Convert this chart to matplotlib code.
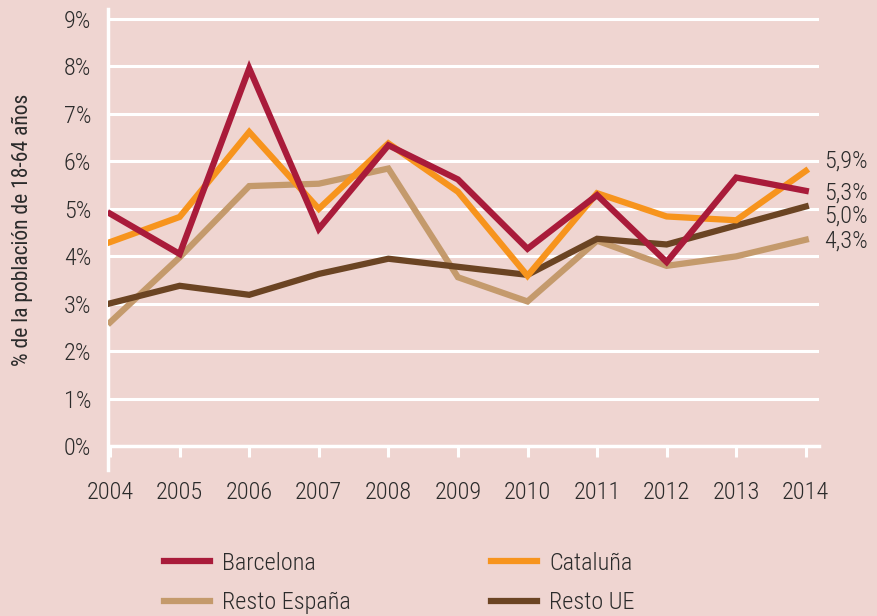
import matplotlib
matplotlib.use("Agg")
import matplotlib.pyplot as plt
from matplotlib import font_manager

years = [2004, 2005, 2006, 2007, 2008, 2009, 2010, 2011, 2012, 2013, 2014]
barcelona = [4.90, 4.05, 7.96, 4.58, 6.34, 5.62, 4.16, 5.29, 3.88, 5.66, 5.38]
cataluna = [4.30, 4.83, 6.62, 5.00, 6.38, 5.36, 3.59, 5.33, 4.84, 4.76, 5.80]
resto_espana = [2.61, 3.98, 5.48, 5.53, 5.85, 3.56, 3.05, 4.33, 3.80, 4.00, 4.35]
resto_ue = [3.01, 3.38, 3.19, 3.63, 3.95, 3.78, 3.61, 4.37, 4.25, 4.65, 5.05]
series_names = ["Barcelona", "Cataluña", "Resto España", "Resto UE"]
end_labels = ["5,9%", "5,3%", "5,0%", "4,3%"]
y_ticks = [0, 1, 2, 3, 4, 5, 6, 7, 8, 9]
y_tick_labels = [f"{v}%" for v in y_ticks]

colors = ["#a91b3a", "#f7941d", "#c49a6c", "#6b4423"]
bg = "#efd5d1"
txt = "#2b2b2b"

names = {f.name for f in font_manager.fontManager.ttflist}
fam = [f for f in ["Roboto Condensed", "Liberation Sans Narrow", "Roboto", "DejaVu Sans"] if f in names]
plt.rcParams["font.family"] = fam
plt.rcParams["font.weight"] = "light"

FS = 17.5

fig = plt.figure(figsize=(8.77, 6.16), dpi=100, facecolor=bg)
ax = fig.add_axes([108/877, 1-470/616, (819-108)/877, (470-9)/616])
ax.set_facecolor(bg)
ax.set_xlim(2003.97, 2014.19)
ax.set_ylim(-0.5, 9.21)

for v in y_ticks[1:]:
    ax.axhline(v, color="white", lw=2.2, zorder=1)

data = [barcelona, cataluna, resto_espana, resto_ue]
order = [2, 3, 1, 0]
lines = {}
for z, i in enumerate(order):
    ln, = ax.plot(years, data[i], color=colors[i], lw=4.5, zorder=3 + z,
                  solid_joinstyle="miter", label=series_names[i])
    lines[i] = ln

for s in ["top", "right"]:
    ax.spines[s].set_visible(False)
ax.spines["left"].set_color("white")
ax.spines["left"].set_linewidth(2.5)
ax.spines["bottom"].set_color("white")
ax.spines["bottom"].set_linewidth(2.5)
ax.spines["bottom"].set_position(("data", 0))
ax.spines["bottom"].set_bounds(2004, 2014.19)

ax.set_xticks(years)
ax.set_xticklabels([str(y) for y in years])
ax.set_yticks(y_ticks)
ax.set_yticklabels(y_tick_labels)
ax.tick_params(axis="x", direction="out", length=8, width=2.2, color="white", pad=17,
               labelsize=FS, labelcolor=txt)
ax.tick_params(axis="y", length=0, pad=12, labelsize=FS, labelcolor=txt)

ax.set_ylabel("% de la población de 18-64 años", fontsize=15.5, color=txt)
ax.yaxis.set_label_coords(-0.105, 0.52)

label_y = [6.0, 5.33, 4.84, 4.33]
for s, yv in zip(end_labels, label_y):
    ax.text(2014.27, yv, s, fontsize=FS, color=txt, va="center", ha="left", clip_on=False)

# row-major legend: Barcelona, Cataluña / Resto España, Resto UE
idx = [0, 2, 1, 3]
leg = fig.legend([lines[i] for i in idx], [series_names[i] for i in idx], ncol=2,
                 loc="upper left", bbox_to_anchor=(142/877, 1-530/616), frameon=False,
                 fontsize=FS, handlelength=1.9, handletextpad=0.5, columnspacing=5.75,
                 labelspacing=0.68, labelcolor=txt)
for h in leg.get_lines():
    h.set_linewidth(4.5)

fig.savefig("out.png", dpi=100, facecolor=bg)
